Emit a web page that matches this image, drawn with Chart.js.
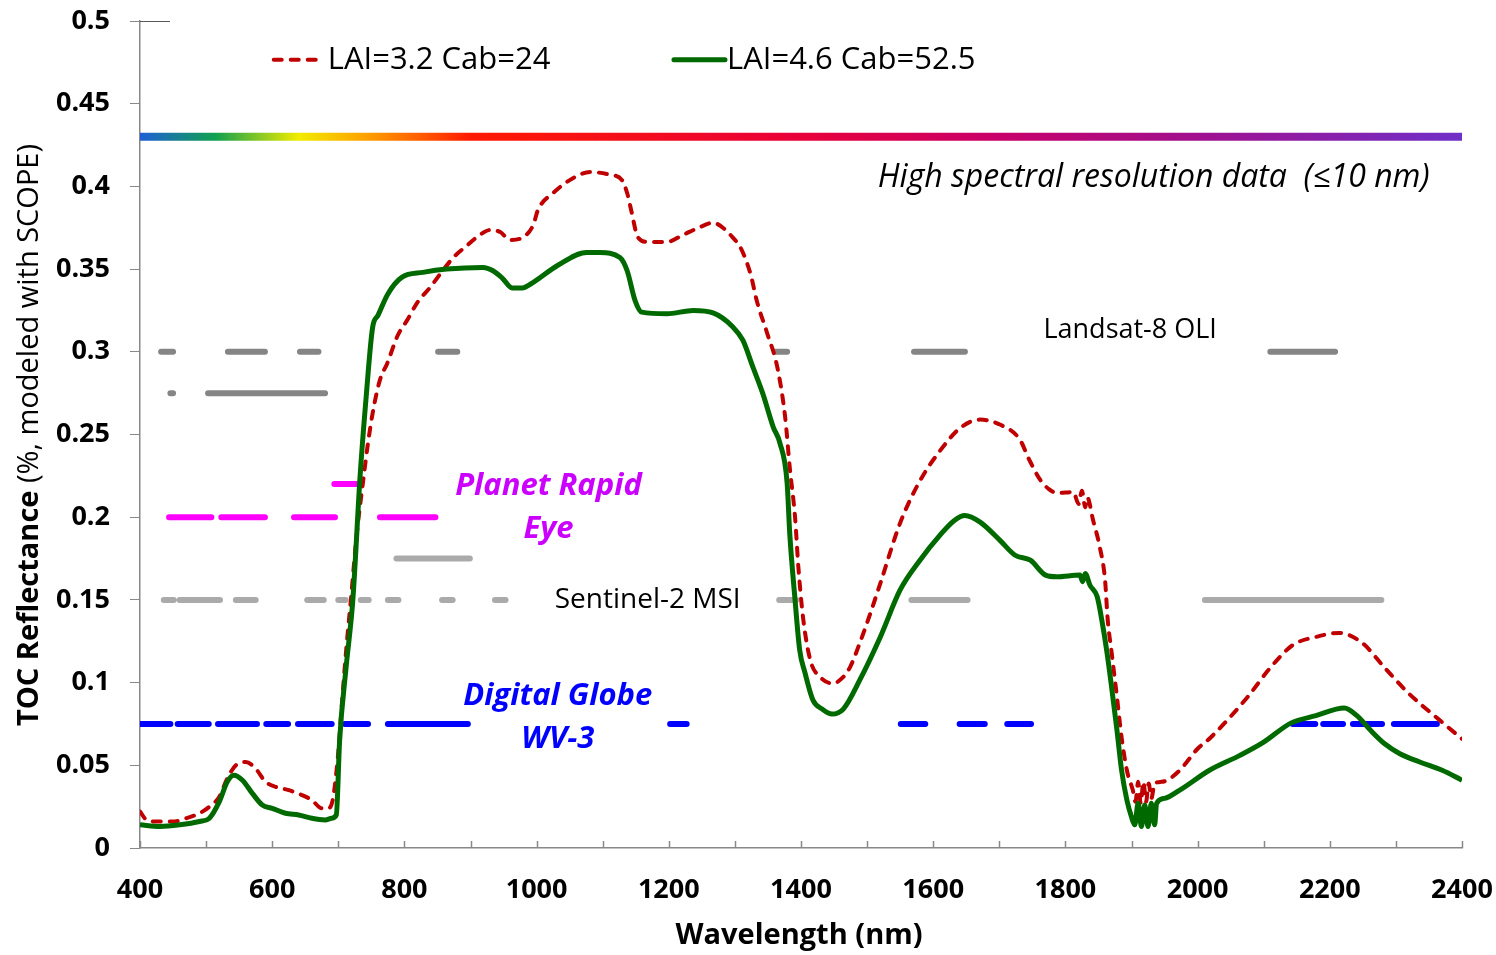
<!DOCTYPE html>
<html><head><meta charset="utf-8">
<script src="https://cdn.jsdelivr.net/npm/chart.js@4/dist/chart.umd.min.js"></script>
<style>html,body{margin:0;padding:0;background:#fff}#wrap{width:1496px;height:955px}</style>
</head><body><div id="wrap"><canvas id="c" width="1496" height="955"></canvas></div>
<script>
// ---------- DATA ----------
const xTicks = [400, 600, 800, 1000, 1200, 1400, 1600, 1800, 2000, 2200, 2400];
const yTicks = [0, 0.05, 0.1, 0.15, 0.2, 0.25, 0.3, 0.35, 0.4, 0.45, 0.5];

const seriesNames = ["LAI=3.2 Cab=24", "LAI=4.6 Cab=52.5"];

// LAI=3.2 Cab=24 (red dashed)
const wlRed = [400,410,425,450,470,490,505,520,532,545,560,575,590,605,625,645,660,675,685,692,700,705,712,719,728,737,745,752,763,774,790,804,820,839,856,874,894,914,929,945,960,980,995,1002,1025,1055,1081,1111,1129,1137,1144,1153,1169,1197,1221,1245,1267,1285,1297,1308,1318,1325,1333,1349,1364,1376,1383,1391,1396,1403,1414,1429,1448,1464,1475,1489,1505,1520,1550,1580,1610,1641,1671,1701,1731,1745,1762,1775,1787,1812,1820,1825,1830,1833,1842,1852,1860,1864,1870,1878,1885,1893,1902,1906,1910,1914,1918,1922,1926,1930,1935,1945,1954,1973,2000,2019,2075,2110,2144,2179,2214,2249,2283,2318,2367,2400];
const refRed = [0.022,0.017,0.016,0.016,0.018,0.021,0.025,0.031,0.042,0.050,0.052,0.048,0.040,0.037,0.035,0.032,0.029,0.024,0.024,0.030,0.058,0.085,0.120,0.150,0.190,0.220,0.245,0.263,0.283,0.293,0.310,0.319,0.330,0.339,0.348,0.357,0.364,0.3706,0.3736,0.3724,0.3676,0.3694,0.3767,0.3857,0.396,0.405,0.4087,0.407,0.4039,0.396,0.384,0.3694,0.3664,0.3664,0.3706,0.375,0.378,0.374,0.369,0.3634,0.354,0.345,0.331,0.311,0.291,0.2606,0.230,0.200,0.170,0.1397,0.1137,0.1034,0.0995,0.1034,0.110,0.124,0.142,0.160,0.1965,0.222,0.240,0.254,0.259,0.256,0.247,0.235,0.2225,0.217,0.2146,0.2152,0.208,0.216,0.206,0.212,0.198,0.182,0.162,0.138,0.118,0.0913,0.067,0.047,0.035,0.028,0.040,0.027,0.040,0.028,0.039,0.030,0.039,0.040,0.041,0.047,0.060,0.0665,0.091,0.109,0.1227,0.1276,0.130,0.124,0.109,0.094,0.077,0.066];

// LAI=4.6 Cab=52.5 (green solid)
const wlGreen = [400,430,460,490,505,520,532,542,555,570,585,600,620,640,660,680,690,697,702,712,722,733,742,752,760,775,796,828,864,919,934,948,963,978,995,1031,1076,1096,1126,1137,1149,1159,1197,1237,1267,1297,1312,1327,1342,1358,1368,1379,1383,1391,1398,1406,1418,1432,1447,1464,1489,1520,1550,1580,1610,1632,1648,1671,1701,1724,1747,1770,1787,1822,1826,1830,1837,1848,1855,1863,1870,1878,1885,1893,1900,1905,1910,1915,1920,1925,1930,1935,1938,1950,1973,2018,2064,2100,2141,2179,2222,2241,2262,2283,2306,2336,2370,2400];
const refGreen = [0.014,0.013,0.014,0.016,0.018,0.028,0.040,0.044,0.041,0.033,0.026,0.024,0.021,0.020,0.018,0.017,0.018,0.020,0.065,0.110,0.150,0.225,0.272,0.315,0.322,0.335,0.345,0.348,0.350,0.351,0.349,0.3446,0.3386,0.3386,0.342,0.352,0.360,0.360,0.357,0.349,0.331,0.324,0.323,0.325,0.3235,0.315,0.307,0.291,0.275,0.2545,0.245,0.2207,0.190,0.150,0.1197,0.106,0.0895,0.084,0.081,0.084,0.1016,0.1276,0.156,0.174,0.189,0.198,0.201,0.197,0.186,0.177,0.174,0.165,0.164,0.165,0.161,0.166,0.159,0.152,0.138,0.118,0.097,0.0713,0.047,0.029,0.0187,0.014,0.027,0.013,0.026,0.013,0.027,0.014,0.027,0.030,0.035,0.047,0.056,0.064,0.0755,0.080,0.0846,0.080,0.071,0.063,0.057,0.052,0.047,0.041];

// Sensor band ranges [start nm, end nm] and the reflectance level they are drawn at
const hyperRange = [400, 2400];         const hyperLevel = 0.43;
const landsatBands = [[432,450],[533,589],[642,670],[851,880],[1361,1379],[1571,1648],[2110,2208]];
const landsatLevel = 0.30;
const landsatPanBands = [[446,450],[503,680]];
const landsatPanLevel = 0.275;
const planetRedEdgeBands = [[694,728]];
const planetRedEdgeLevel = 0.22;
const planetBands = [[444,508],[523,589],[633,695],[763,847]];
const planetLevel = 0.20;
const sentinelNirBands = [[788,899]];
const sentinelNirLevel = 0.175;
const sentinelBands = [[436,451],[460,521],[545,575],[653,678],[700,711],[734,746],[775,791],[857,873],[937,953],[1367,1393],[1567,1652],[2011,2278]];
const sentinelLevel = 0.15;
const wv3Bands = [[400,446],[457,504],[518,577],[591,624],[639,690],[710,745],[775,896],[1202,1227],[1551,1588],[1640,1678],[1712,1748],[2144,2178],[2190,2220],[2235,2279],[2297,2362]];
const wv3Level = 0.075;

// ---------- BUILD ----------
const FONT = '"Open Sans"';
const toPts = (xs, ys) => xs.map((x, i) => ({x: x, y: ys[i]}));
function bandPts(bands, level) {
  const out = [];
  bands.forEach(b => { out.push({x: b[0], y: level}); out.push({x: b[1], y: level}); out.push({x: b[1], y: null}); });
  return out;
}
function bandDs(bands, level, color) {
  return { data: bandPts(bands, level), borderColor: color, borderWidth: 6, borderCapStyle: 'round',
           pointRadius: 0, spanGaps: false, order: 5, tension: 0, fill: false };
}
const DARKGRAY = '#858585', LIGHTGRAY = '#aaaaaa', MAGENTA = '#ff00ff', BLUE = '#0000ff';
const RED = '#c00000', GREEN = '#006a00';

function rainbow(context) {
  const chart = context.chart;
  const area = chart.chartArea;
  if (!area) return '#f00';
  const x0 = chart.scales.x.getPixelForValue(hyperRange[0]);
  const x1 = chart.scales.x.getPixelForValue(hyperRange[1]);
  const g = chart.ctx.createLinearGradient(x0, 0, x1, 0);
  g.addColorStop(0.0, '#1f5fd6');
  g.addColorStop(0.057, '#10a050');
  g.addColorStop(0.12, '#f2ec00');
  g.addColorStop(0.175, '#ff9a00');
  g.addColorStop(0.25, '#ff1a00');
  g.addColorStop(0.5, '#e8003a');
  g.addColorStop(0.65, '#c8006a');
  g.addColorStop(0.8, '#a0108e');
  g.addColorStop(1.0, '#7030c8');
  return g;
}

const datasets = [
  { label: seriesNames[1], data: toPts(wlGreen, refGreen), borderColor: GREEN, borderWidth: 5,
    pointRadius: 0, cubicInterpolationMode: 'monotone', order: 0, fill: false, borderJoinStyle: 'round' },
  { label: seriesNames[0], data: toPts(wlRed, refRed), borderColor: RED, borderWidth: 4,
    borderDash: [8, 9], borderCapStyle: 'round', pointRadius: 0, cubicInterpolationMode: 'monotone', order: 1, fill: false },
  { data: toPts(hyperRange, [hyperLevel, hyperLevel]), borderColor: rainbow, borderWidth: 8, pointRadius: 0, order: 6 },
  bandDs(landsatBands, landsatLevel, DARKGRAY),
  bandDs(landsatPanBands, landsatPanLevel, DARKGRAY),
  bandDs(planetRedEdgeBands, planetRedEdgeLevel, MAGENTA),
  bandDs(planetBands, planetLevel, MAGENTA),
  bandDs(sentinelNirBands, sentinelNirLevel, LIGHTGRAY),
  bandDs(sentinelBands, sentinelLevel, LIGHTGRAY),
  bandDs(wv3Bands, wv3Level, BLUE)
];

const decorPlugin = {
  id: 'decor',
  afterDraw(chart) {
    const c = chart.ctx, xs = chart.scales.x, ys = chart.scales.y, a = chart.chartArea;
    c.save();
    // inside x ticks every 100 nm
    c.strokeStyle = '#888'; c.lineWidth = 1.5;
    for (let v = xTicks[0]; v <= xTicks[xTicks.length - 1]; v += 100) {
      const px = Math.round(xs.getPixelForValue(v)) + 0.5;
      c.beginPath(); c.moveTo(px, a.bottom); c.lineTo(px, a.bottom - 7); c.stroke();
    }
    // top border
    c.strokeStyle = '#595959'; c.lineWidth = 1;
    c.beginPath(); c.moveTo(a.left, a.top + 0.5); c.lineTo(a.left + 30, a.top + 0.5); c.stroke();

    const P = (x, y) => [xs.getPixelForValue(x), ys.getPixelForValue(y)];
    function txt(s, x, y, font, color, align) {
      c.font = font; c.fillStyle = color; c.textAlign = align || 'center'; c.textBaseline = 'middle';
      const p = P(x, y); c.fillText(s, p[0], p[1]);
    }
    // legend
    const ly = ys.getPixelForValue(0.4765);
    const lx1 = xs.getPixelForValue(684), lx2 = xs.getPixelForValue(1288);
    c.lineCap = 'round';
    c.strokeStyle = RED; c.lineWidth = 4; c.setLineDash([8, 9]);
    c.beginPath(); c.moveTo(lx1 - 54, ly); c.lineTo(lx1 - 4, ly); c.stroke();
    c.setLineDash([]);
    c.strokeStyle = GREEN; c.lineWidth = 5;
    c.beginPath(); c.moveTo(lx2 - 53, ly); c.lineTo(lx2 - 2, ly); c.stroke();
    c.font = '31px ' + FONT; c.fillStyle = '#000'; c.textAlign = 'left'; c.textBaseline = 'middle';
    c.fillText(seriesNames[0], lx1, ly);
    c.fillText(seriesNames[1], lx2, ly);

    // annotations
    txt('High spectral resolution data  (\u226410 nm)', 2351, 0.405, 'italic 32px ' + FONT, '#000', 'right');
    txt('Landsat-8 OLI', 1898, 0.313, '27px ' + FONT, '#000');
    txt('Planet Rapid', 1018, 0.219, 'italic bold 31px ' + FONT, '#cc00ff');
    txt('Eye', 1018, 0.193, 'italic bold 31px ' + FONT, '#cc00ff');
    txt('Sentinel-2 MSI', 1168, 0.150, '28px ' + FONT, '#000');
    txt('Digital Globe', 1032, 0.092, 'italic bold 31px ' + FONT, '#0000ff');
    txt('WV-3', 1032, 0.066, 'italic bold 31px ' + FONT, '#0000ff');

    // axis titles
    c.fillStyle = '#000'; c.textBaseline = 'middle';
    c.font = 'bold 29px ' + FONT; c.textAlign = 'center';
    c.fillText('Wavelength (nm)', (a.left + a.right) / 2 - 2, 936);
    c.save();
    c.translate(30, 435);
    c.rotate(-Math.PI / 2);
    const t1 = 'TOC Reflectance', t2 = ' (%, modeled with SCOPE)';
    c.font = 'bold 29px ' + FONT; const w1 = c.measureText(t1).width;
    c.font = '29px ' + FONT; const w2 = c.measureText(t2).width;
    const sx = -(w1 + w2) / 2;
    c.textAlign = 'left';
    c.font = 'bold 29px ' + FONT; c.fillText(t1, sx, 0);
    c.font = '29px ' + FONT; c.fillText(t2, sx + w1, 0);
    c.restore();
    c.restore();
  }
};

new Chart(document.getElementById('c'), {
  type: 'line',
  data: { datasets: datasets },
  options: {
    responsive: false, animation: false, devicePixelRatio: 1,
    layout: { padding: { top: 21, right: 34, left: 0, bottom: 0 } },
    plugins: { legend: { display: false }, tooltip: { enabled: false } },
    scales: {
      x: {
        type: 'linear', min: xTicks[0], max: xTicks[xTicks.length - 1],
        afterFit: s => { s.height = 107; s.paddingLeft = 0; s.paddingRight = 0; s.paddingTop = 0; s.paddingBottom = 0; },
        afterBuildTicks: s => { s.ticks = xTicks.map(v => ({value: v})); },
        grid: { display: true, drawOnChartArea: false, drawTicks: false },
        border: { display: true, color: '#888', width: 1.5 },
        ticks: { padding: 26, color: '#000', font: { family: 'Open Sans', size: 27, weight: 'bold' }, maxRotation: 0,
                 callback: v => String(v) }
      },
      y: {
        type: 'linear', min: yTicks[0], max: yTicks[yTicks.length - 1],
        afterFit: s => { s.width = 140; s.paddingLeft = 0; s.paddingRight = 0; s.paddingTop = 0; s.paddingBottom = 0; },
        afterBuildTicks: s => { s.ticks = yTicks.map(v => ({value: v})); },
        grid: { display: true, drawOnChartArea: false, drawTicks: true, tickLength: 10, color: '#888' },
        border: { display: true, color: '#888', width: 1.5 },
        ticks: { padding: 20, color: '#000', font: { family: 'Open Sans', size: 27, weight: 'bold' },
                 callback: v => String(Number(v.toFixed(2))) }
      }
    }
  },
  plugins: [decorPlugin]
});
</script></body></html>
